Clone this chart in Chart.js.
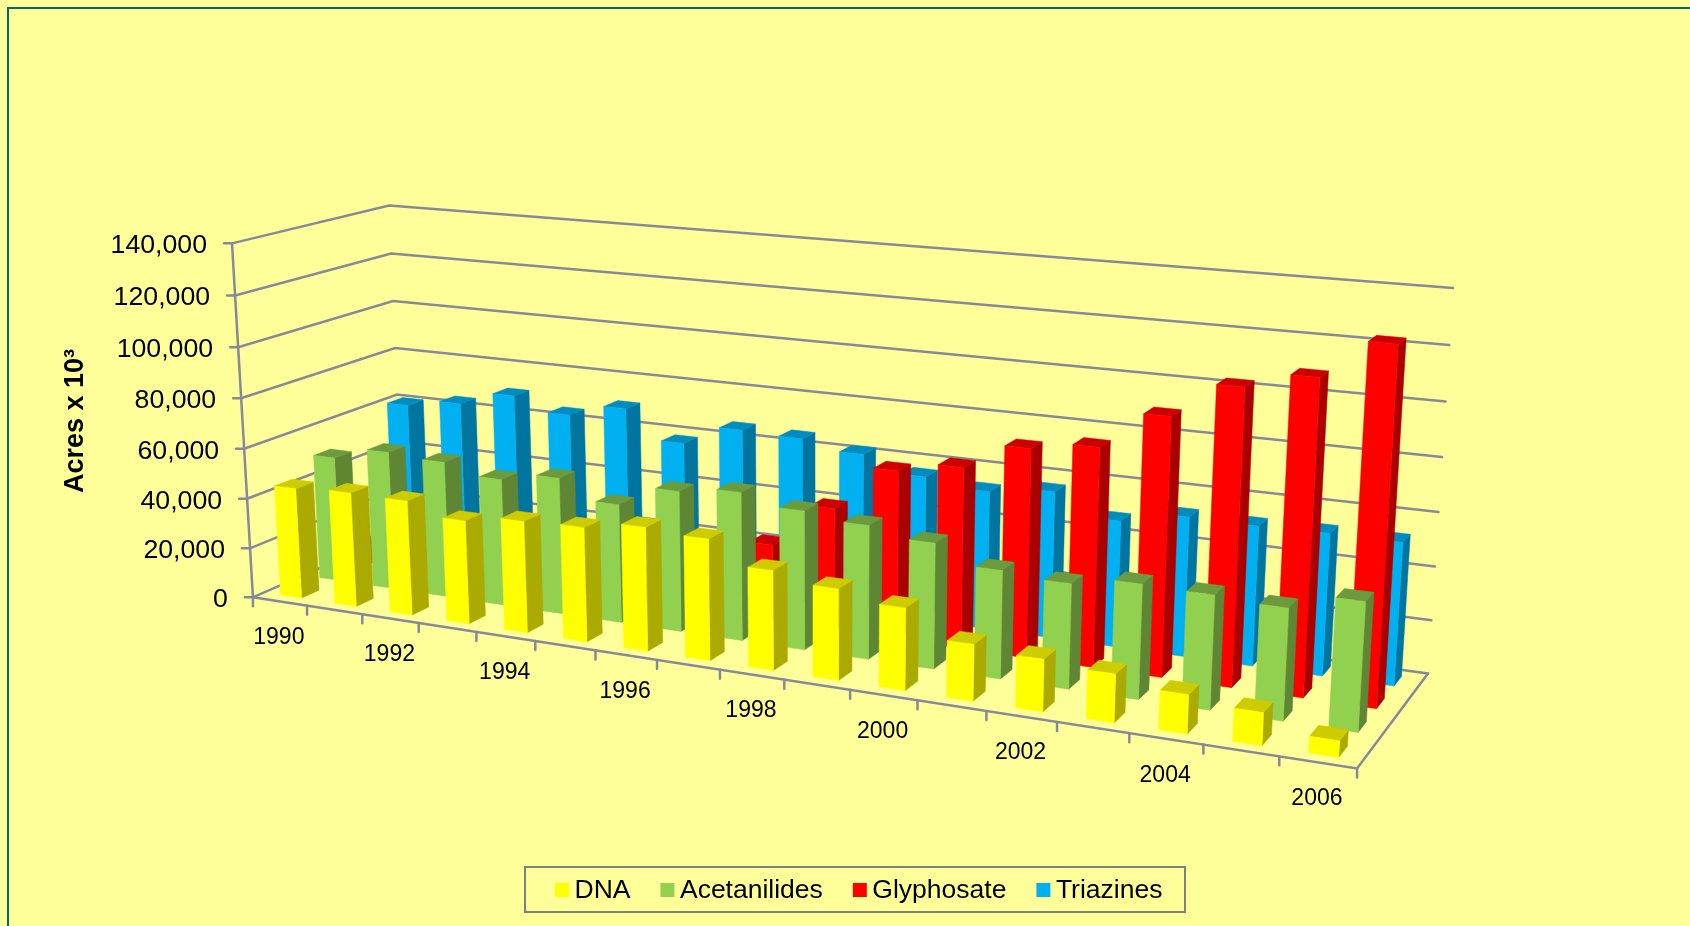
<!DOCTYPE html>
<html>
<head>
<meta charset="utf-8">
<title>Acres x 10³</title>
<script src="https://cdn.jsdelivr.net/npm/chart.js@4"></script>
<style>
  html, body { margin: 0; padding: 0; background: #FFFF99; overflow: hidden; }
  canvas { display: block; }
</style>
</head>
<body>
<canvas id="myChart" width="1690" height="926"></canvas>
<script>
// Data
const years = ['1990', '1991', '1992', '1993', '1994', '1995', '1996', '1997', '1998',
  '1999', '2000', '2001', '2002', '2003', '2004', '2005', '2006'];
const dna = [44300, 45500, 45300, 40500, 43400, 44100, 47300, 46000, 37500,
  34100, 30500, 20800, 19100, 17500, 14000, 11600, 5800];
const acetanilides = [50600, 55600, 54400, 50400, 53800, 46400, 54500, 57000, 53000,
  50600, 47200, 40300, 38800, 42000, 41500, 40300, 46000];
const glyphosate = [8000, 8500, 8000, 8000, 10000, 12000, 15000, 30100, 47400,
  64700, 68800, 78600, 81800, 95600, 108500, 114300, 128000];
const triazines = [61000, 64200, 70000, 64700, 69800, 58400, 66400, 65700, 62300,
  56300, 53500, 56300, 48200, 52800, 52500, 52900, 52800];

// Warna tiap seri: depan, atas, samping
const faceColors = {
  DNA: ['#FFFF00', '#CCCC00', '#AAAA00'],
  Acetanilides: ['#92D050', '#6B9B3C', '#5F8635'],
  Glyphosate: ['#FF0000', '#CC0000', '#AA0000'],
  Triazines: ['#00B0F0', '#008CBF', '#0075A0'],
};

// Sudut kotak 3D di layar: [u, v, w, x, y]
const boxCorners = [
  [0, 0, 0, 253, 598],
  [1, 0, 0, 1357, 768],
  [0, 1, 0, 403, 531],
  [1, 1, 0, 1428, 674],
  [0, 0, 1, 232, 243],
  [0, 1, 1, 389, 206],
  [1, 1, 1, 1453, 288],
];
const gridColor = '#88889A';
const fontFamily = '"Liberation Sans", Arial, sans-serif';

// Kamera proyektif 3x4 dari titik sudut (least squares)
function solveCamera(corners) {
  const rows = [];
  const rhs = [];
  corners.forEach(([u, v, w, px, py]) => {
    const x = px / 1000;
    const y = py / 1000;
    rows.push([u, v, w, 1, 0, 0, 0, 0, -x * u, -x * v, -x * w]);
    rhs.push(x);
    rows.push([0, 0, 0, 0, u, v, w, 1, -y * u, -y * v, -y * w]);
    rhs.push(y);
  });
  const n = 11;
  const m = [];
  for (let i = 0; i < n; i++) {
    m.push(new Array(n + 1).fill(0));
    for (let j = 0; j < n; j++) {
      rows.forEach((r) => { m[i][j] += r[i] * r[j]; });
    }
    rows.forEach((r, k) => { m[i][n] += r[i] * rhs[k]; });
    m[i][i] += 1e-9;
  }
  for (let c = 0; c < n; c++) {
    let p = c;
    for (let r = c + 1; r < n; r++) if (Math.abs(m[r][c]) > Math.abs(m[p][c])) p = r;
    [m[c], m[p]] = [m[p], m[c]];
    for (let r = 0; r < n; r++) {
      if (r === c) continue;
      const f = m[r][c] / m[c][c];
      for (let k = c; k <= n; k++) m[r][k] -= f * m[c][k];
    }
  }
  return m.map((row, i) => row[n] / row[i]);
}

const cam = solveCamera(boxCorners);

function project(u, v, w) {
  const d = cam[8] * u + cam[9] * v + cam[10] * w + 1;
  return [
    1000 * (cam[0] * u + cam[1] * v + cam[2] * w + cam[3]) / d,
    1000 * (cam[4] * u + cam[5] * v + cam[6] * w + cam[7]) / d,
  ];
}

function polygon(ctx, pts, color) {
  ctx.fillStyle = color;
  ctx.strokeStyle = color;
  ctx.lineWidth = 0.5;
  ctx.beginPath();
  pts.forEach((p, i) => (i ? ctx.lineTo(p[0], p[1]) : ctx.moveTo(p[0], p[1])));
  ctx.closePath();
  ctx.fill();
  ctx.stroke();
}

function line(ctx, pts) {
  ctx.beginPath();
  pts.forEach((p, i) => (i ? ctx.lineTo(p[0], p[1]) : ctx.moveTo(p[0], p[1])));
  ctx.stroke();
}

function drawFrame(chart) {
  const ctx = chart.ctx;
  ctx.save();
  ctx.fillStyle = '#FFFF99';
  ctx.fillRect(0, 0, chart.width, chart.height);
  ctx.strokeStyle = '#006B6B';
  ctx.lineWidth = 2;
  line(ctx, [[8, chart.height], [8, 8], [chart.width, 8]]);
  ctx.restore();
}

function drawAxes(chart) {
  const ctx = chart.ctx;
  const yScale = chart.scales.y;
  const xScale = chart.scales.x;
  ctx.save();
  ctx.strokeStyle = gridColor;
  ctx.lineWidth = 2.5;
  ctx.lineCap = 'round';
  ctx.fillStyle = '#000';

  // garis grid dinding belakang dan label sumbu y
  ctx.font = '26.7px ' + fontFamily;
  ctx.textAlign = 'right';
  ctx.textBaseline = 'middle';
  yScale.ticks.forEach((tick) => {
    const w = (yScale.bottom - yScale.getPixelForValue(tick.value)) / yScale.height;
    const a = project(0, 0, w);
    line(ctx, [[a[0] - 8, a[1]], a, project(0, 1, w), project(1, 1, w)]);
    ctx.fillText(tick.label, a[0] - 25, a[1] + 2.5);
  });
  line(ctx, [project(0, 0, 0), project(0, 0, 1)]);

  // lantai dan sumbu x
  line(ctx, [project(0, 0, 0), project(1, 0, 0), project(1, 1, 0)]);
  const step = xScale.width / years.length;
  ctx.font = '23px ' + fontFamily;
  ctx.textAlign = 'center';
  for (let i = 0; i <= years.length; i++) {
    const p = project((i * step) / xScale.width, 0, 0);
    line(ctx, [p, [p[0], p[1] + 9]]);
  }
  years.forEach((year, i) => {
    if (i % 2) return;
    const u = (xScale.getPixelForValue(i) - xScale.left) / xScale.width;
    const p = project(u, 0, 0);
    ctx.fillText(year, p[0] - 1, p[1] + 36.5);
  });

  // judul sumbu y
  ctx.translate(76, 421);
  ctx.rotate(-Math.PI / 2);
  ctx.font = 'bold 27px ' + fontFamily;
  ctx.fillText('Acres x 10³', 0, 0);
  ctx.restore();
}

function drawBars(chart) {
  const ctx = chart.ctx;
  const xScale = chart.scales.x;
  const yScale = chart.scales.y;
  const slots = chart.data.datasets.length;
  // seri belakang dulu, lalu kiri ke kanan
  for (let d = slots - 1; d >= 0; d--) {
    const meta = chart.getDatasetMeta(d);
    const [front, top, side] = faceColors[chart.data.datasets[d].label];
    const v0 = (d + 0.28) / slots;
    const v1 = (d + 0.72) / slots;
    meta.data.forEach((bar) => {
      const u0 = (bar.x - bar.width / 2 - xScale.left) / xScale.width;
      const u1 = (bar.x + bar.width / 2 - xScale.left) / xScale.width;
      const h = (bar.base - bar.y) / yScale.height;
      polygon(ctx, [project(u1, v0, 0), project(u1, v1, 0), project(u1, v1, h), project(u1, v0, h)], side);
      polygon(ctx, [project(u0, v0, h), project(u1, v0, h), project(u1, v1, h), project(u0, v1, h)], top);
      polygon(ctx, [project(u0, v0, 0), project(u1, v0, 0), project(u1, v0, h), project(u0, v0, h)], front);
    });
  }
}

function drawLegend(chart) {
  const ctx = chart.ctx;
  ctx.save();
  ctx.strokeStyle = '#7F7F7F';
  ctx.lineWidth = 2;
  ctx.strokeRect(525, 867, 660, 45);
  ctx.font = '26.5px ' + fontFamily;
  ctx.textAlign = 'left';
  ctx.textBaseline = 'middle';
  let x = 555;
  chart.data.datasets.forEach((ds) => {
    ctx.fillStyle = ds.backgroundColor;
    ctx.fillRect(x, 883, 14, 14);
    ctx.fillStyle = '#000';
    ctx.fillText(ds.label, x + 19.5, 891);
    x += 19.5 + ctx.measureText(ds.label).width + 30;
  });
  ctx.restore();
}

const bars3d = {
  id: 'bars3d',
  beforeDatasetsDraw(chart) {
    drawFrame(chart);
    drawAxes(chart);
    drawBars(chart);
    drawLegend(chart);
    return false;
  },
};

function makeDataset(label, data) {
  return { label, data, backgroundColor: faceColors[label][0] };
}

// Create the chart
const ctxBar = document.getElementById('myChart').getContext('2d');
const myChart = new Chart(ctxBar, {
  type: 'bar',
  data: {
    labels: years,
    datasets: [
      makeDataset('DNA', dna),
      makeDataset('Acetanilides', acetanilides),
      makeDataset('Glyphosate', glyphosate),
      makeDataset('Triazines', triazines),
    ],
  },
  options: {
    responsive: false,
    animation: false,
    grouped: false,
    categoryPercentage: 1,
    barPercentage: 0.39,
    layout: { padding: 0 },
    plugins: { legend: { display: false }, tooltip: { enabled: false } },
    scales: {
      x: { display: false },
      y: {
        display: false,
        min: 0,
        max: 140000,
        ticks: { stepSize: 20000, callback: (v) => v.toLocaleString('en-US') },
      },
    },
  },
  plugins: [bars3d],
});
</script>
</body>
</html>
